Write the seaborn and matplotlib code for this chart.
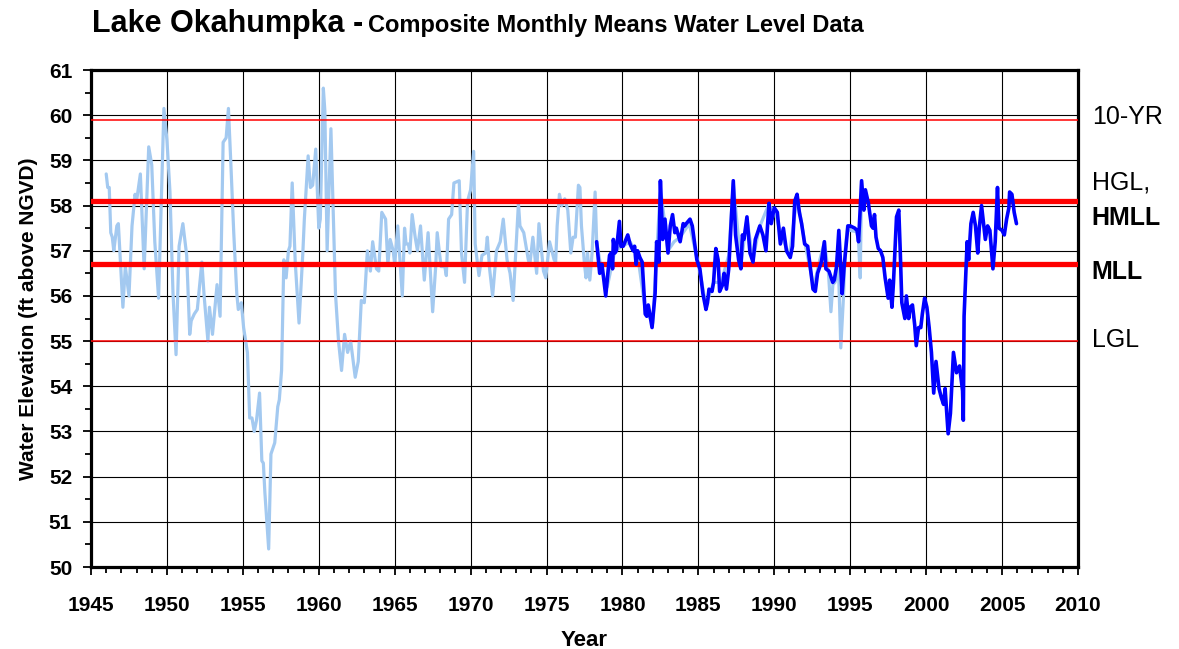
import pandas as pd
import matplotlib.pyplot as plt
import seaborn as sns
from matplotlib.ticker import MultipleLocator

# Composite record (light blue), 1946 - 1995
light_year = [
    1946.0, 1946.1, 1946.2, 1946.3, 1946.4, 1946.5, 1946.7, 1946.8, 1947.1, 1947.26,
    1947.5, 1947.7, 1947.9, 1948.0, 1948.25, 1948.5, 1948.8, 1949.0, 1949.2, 1949.45,
    1949.8, 1950.0, 1950.2, 1950.4, 1950.6, 1950.8, 1951.05, 1951.3, 1951.5, 1951.6,
    1951.8, 1952.0, 1952.3, 1952.45, 1952.7, 1952.8, 1953.0, 1953.3, 1953.5, 1953.7,
    1953.9, 1954.05, 1954.2, 1954.4, 1954.6, 1954.7, 1954.9, 1955.05, 1955.3, 1955.45,
    1955.6, 1955.75, 1955.9, 1956.1, 1956.25, 1956.35, 1956.45, 1956.7, 1956.85, 1957.1,
    1957.3, 1957.4, 1957.55, 1957.7, 1957.85, 1958.0, 1958.1, 1958.25, 1958.45, 1958.7,
    1958.95, 1959.05, 1959.3, 1959.45, 1959.6, 1959.8, 1960.0, 1960.1, 1960.3, 1960.4,
    1960.55, 1960.8, 1961.1, 1961.3, 1961.5, 1961.7, 1961.9, 1962.1, 1962.4, 1962.6,
    1962.8, 1963.0, 1963.2, 1963.4, 1963.55, 1963.8, 1963.95, 1964.15, 1964.4, 1964.55,
    1964.7, 1964.9, 1965.0, 1965.2, 1965.5, 1965.65, 1965.75, 1965.9, 1966.0, 1966.15,
    1966.35, 1966.5, 1966.7, 1966.95, 1967.2, 1967.5, 1967.7, 1967.8, 1968.05, 1968.3,
    1968.4, 1968.55, 1968.75, 1968.9, 1969.25, 1969.4, 1969.6, 1969.8, 1970.0, 1970.2,
    1970.3, 1970.55, 1970.75, 1971.0, 1971.1, 1971.25, 1971.45, 1971.7, 1971.95, 1972.15,
    1972.4, 1972.6, 1972.8, 1973.15, 1973.25, 1973.5, 1973.8, 1973.9, 1974.1, 1974.35,
    1974.5, 1974.8, 1974.95, 1975.2, 1975.5, 1975.6, 1975.7, 1975.85, 1976.0, 1976.2,
    1976.4, 1976.6, 1976.75, 1976.9, 1977.1, 1977.2, 1977.3, 1977.5, 1977.6, 1977.7,
    1977.85, 1978.0, 1978.2, 1978.3, 1978.6, 1979.0, 1979.5, 1980.0, 1980.5, 1981.0,
    1981.5, 1982.0, 1982.5, 1983.0, 1983.4, 1983.8, 1984.4, 1985.0, 1985.5, 1986.0,
    1986.5, 1987.0, 1987.3, 1987.8, 1988.2, 1988.6, 1989.0, 1989.6, 1990.0, 1990.5,
    1991.0, 1991.5, 1992.0, 1992.6, 1993.0, 1993.3, 1993.57, 1993.73, 1993.86, 1994.0,
    1994.23, 1994.38, 1994.56, 1994.67, 1994.82, 1995.0, 1995.44, 1995.55, 1995.66, 1995.75,
]
light_level = [
    58.7, 58.4, 58.4, 57.4, 57.3, 57.0, 57.55, 57.6, 55.75, 56.65,
    56.0, 57.55, 58.25, 58.1, 58.7, 56.6, 59.3, 58.9, 57.2, 55.95,
    60.15, 59.45, 58.3, 56.05, 54.7, 57.1, 57.6, 56.9, 55.15, 55.45,
    55.6, 55.7, 56.75, 56.0, 55.0, 55.75, 55.15, 56.25, 55.55, 59.4,
    59.5, 60.15, 59.0, 57.4, 56.05, 55.7, 55.85, 55.3, 54.75, 53.3,
    53.3, 53.0, 53.25, 53.85, 52.35, 52.3, 51.65, 50.4, 52.5, 52.75,
    53.55, 53.7, 54.35, 56.8, 56.4, 57.0, 57.1, 58.5, 56.75, 55.4,
    56.95, 57.7, 59.1, 58.4, 58.45, 59.25, 57.5, 57.7, 60.6, 60.1,
    57.0, 59.7, 56.05, 55.0, 54.35, 55.15, 54.75, 55.0, 54.2, 54.55,
    55.9, 55.85, 57.0, 56.55, 57.2, 56.6, 56.55, 57.85, 57.7, 56.7,
    57.25, 57.0, 56.7, 57.55, 56.0, 57.5, 57.15, 57.15, 56.95, 57.8,
    57.3, 57.0, 57.55, 56.35, 57.4, 55.65, 56.65, 57.4, 56.65, 56.65,
    56.45, 57.7, 57.8, 58.5, 58.55, 56.95, 56.3, 58.1, 58.35, 59.2,
    57.15, 56.45, 56.9, 56.95, 57.3, 56.6, 56.0, 57.0, 57.2, 57.7,
    56.8, 56.5, 55.9, 58.05, 57.55, 57.4, 56.8, 56.7, 57.3, 56.5,
    57.6, 56.55, 56.4, 57.2, 56.8, 56.75, 57.55, 58.25, 58.0, 58.15,
    57.9, 56.95, 57.3, 57.3, 58.45, 58.4, 57.55, 56.7, 56.4, 56.95,
    56.35, 56.95, 58.3, 57.2, 56.6, 56.2, 57.0, 57.1, 57.2, 56.9,
    55.7, 55.4, 58.4, 57.0, 57.2, 57.3, 57.6, 56.7, 55.8, 56.3,
    56.3, 56.9, 58.5, 56.7, 57.7, 56.8, 57.5, 58.0, 57.9, 57.3,
    56.9, 58.2, 57.2, 56.2, 56.8, 57.2, 56.5, 55.65, 56.25, 56.3,
    56.6, 54.85, 56.0, 57.0, 57.55, 57.45, 57.42, 57.2, 56.4, 58.5,
]

# Recent record (dark blue), 1978 - 2006
dark_year = [
    1978.3, 1978.5, 1978.65, 1978.9, 1979.15, 1979.25, 1979.35, 1979.4, 1979.5, 1979.6,
    1979.8, 1979.9, 1980.05, 1980.35, 1980.5, 1980.7, 1980.8, 1980.9, 1981.0, 1981.15,
    1981.3, 1981.5, 1981.6, 1981.7, 1981.95, 1982.15, 1982.25, 1982.4, 1982.5, 1982.65,
    1982.8, 1983.0, 1983.15, 1983.3, 1983.45, 1983.55, 1983.8, 1984.0, 1984.1, 1984.2,
    1984.45, 1984.6, 1984.9, 1985.1, 1985.3, 1985.5, 1985.6, 1985.7, 1985.9, 1986.0,
    1986.15, 1986.3, 1986.4, 1986.6, 1986.7, 1986.85, 1987.0, 1987.1, 1987.3, 1987.45,
    1987.65, 1987.8, 1987.9, 1988.0, 1988.2, 1988.4, 1988.6, 1988.75, 1988.9, 1989.05,
    1989.25, 1989.45, 1989.65, 1989.8, 1990.0, 1990.2, 1990.4, 1990.6, 1990.8, 1991.05,
    1991.2, 1991.35, 1991.5, 1991.65, 1991.8, 1992.0, 1992.2, 1992.35, 1992.55, 1992.7,
    1992.85, 1993.1, 1993.3, 1993.4, 1993.6, 1993.85, 1993.95, 1994.1, 1994.25, 1994.47,
    1994.6, 1994.85, 1995.0, 1995.3, 1995.45, 1995.55, 1995.75, 1995.9, 1996.0, 1996.1,
    1996.2, 1996.4, 1996.5, 1996.6, 1996.7, 1996.85, 1997.0, 1997.15, 1997.3, 1997.5,
    1997.6, 1997.75, 1997.85, 1998.05, 1998.2, 1998.3, 1998.4, 1998.6, 1998.7, 1998.85,
    1998.95, 1999.1, 1999.25, 1999.35, 1999.5, 1999.65, 1999.75, 1999.9, 2000.05, 2000.2,
    2000.35, 2000.5, 2000.65, 2000.85, 2001.0, 2001.15, 2001.25, 2001.45, 2001.6, 2001.8,
    2002.0, 2002.2, 2002.4, 2002.45, 2002.5, 2002.7, 2002.8, 2002.95, 2003.1, 2003.25,
    2003.4, 2003.5, 2003.65, 2003.9, 2004.05, 2004.2, 2004.4, 2004.55, 2004.7, 2004.8,
    2005.0, 2005.15, 2005.3, 2005.45, 2005.5, 2005.65, 2005.8, 2005.95,
]
dark_level = [
    57.2, 56.5, 56.7, 56.0, 56.9, 56.95, 56.6, 57.25, 56.95, 57.0,
    57.65, 57.1, 57.1, 57.35, 57.15, 57.0, 57.1, 56.7, 57.0, 56.85,
    56.75, 55.6, 55.55, 55.8, 55.3, 56.05, 57.2, 56.75, 58.55, 57.25,
    57.7, 56.95, 57.55, 57.8, 57.4, 57.5, 57.2, 57.6, 57.55, 57.6,
    57.7, 57.55, 56.8, 56.6, 56.05, 55.7, 55.85, 56.15, 56.1, 56.3,
    57.05, 56.8, 56.1, 56.25, 56.5, 56.15, 56.6, 57.25, 58.55, 57.35,
    56.8, 56.6, 57.35, 57.25, 57.75, 56.95, 56.75, 57.25, 57.4, 57.55,
    57.35, 57.0, 58.05, 57.6, 57.95, 57.85, 57.15, 57.5, 57.0, 56.85,
    57.1, 58.1, 58.25, 57.85, 57.6, 57.15, 57.1, 56.7, 56.15, 56.1,
    56.5, 56.75, 57.2, 56.6, 56.55, 56.3, 56.35, 56.65, 57.45, 56.05,
    56.65, 57.55, 57.55, 57.5, 57.45, 57.2, 58.55, 57.9, 58.35, 58.2,
    58.05, 57.55, 57.5, 57.8, 57.3, 57.05, 57.0, 56.85, 56.4, 55.95,
    56.35, 55.75, 56.3, 57.75, 57.9, 56.95, 55.85, 55.5, 56.0, 55.5,
    55.75, 55.8, 55.35, 54.9, 55.3, 55.3, 55.6, 55.95, 55.75, 55.3,
    54.75, 53.85, 54.55, 53.95, 53.75, 53.6, 53.95, 52.95, 53.4, 54.75,
    54.3, 54.45, 53.9, 53.25, 55.55, 57.2, 56.8, 57.6, 57.85, 57.55,
    56.95, 57.5, 58.0, 57.25, 57.55, 57.45, 56.6, 57.2, 58.4, 57.5,
    57.45, 57.35, 57.7, 57.95, 58.3, 58.25, 57.85, 57.6,
]

# Reference levels
ref_levels = [59.9, 58.1, 56.7, 55.0]
ref_widths = [1.1, 3.8, 3.8, 1.1]

light = pd.DataFrame({"Year": light_year, "Level": light_level})
dark = pd.DataFrame({"Year": dark_year, "Level": dark_level})

sns.set_style("white")
plt.rcParams['font.family'] = ['Liberation Sans', 'DejaVu Sans']
plt.rcParams['text.color'] = 'black'
plt.rcParams['axes.labelcolor'] = 'black'
plt.rcParams['xtick.color'] = 'black'
plt.rcParams['ytick.color'] = 'black'

fig = plt.figure(figsize=(11.79, 6.49), dpi=100)
ax = fig.add_axes([0.0772, 0.1263, 0.8371, 0.7658])

sns.lineplot(data=light, x="Year", y="Level", ax=ax, color="#A3C9F0",
             linewidth=2.3, estimator=None, sort=False, zorder=2)
for lev, lw in zip(ref_levels, ref_widths):
    ax.axhline(lev, color="#FF0000", linewidth=lw, zorder=3)
sns.lineplot(data=dark, x="Year", y="Level", ax=ax, color="#0000FF",
             linewidth=2.6, estimator=None, sort=False, zorder=4)

ax.set_xlim(1945, 2010)
ax.set_ylim(50, 61)
ax.xaxis.set_major_locator(MultipleLocator(5))
ax.xaxis.set_minor_locator(MultipleLocator(1))
ax.yaxis.set_major_locator(MultipleLocator(1))
ax.yaxis.set_minor_locator(MultipleLocator(0.5))
ax.grid(True, which='major', color='black', linewidth=0.8)
ax.set_axisbelow(True)

ax.tick_params(which='both', direction='out', bottom=True, left=True, color='black')
ax.tick_params(which='major', length=5.5, width=1.3, labelsize=15)
ax.tick_params(which='minor', length=4.5, width=1.3)
ax.tick_params(axis='x', which='major', pad=15)
ax.tick_params(axis='y', which='major', pad=8)
for lab in ax.get_xticklabels() + ax.get_yticklabels():
    lab.set_fontweight('bold')
for sp in ax.spines.values():
    sp.set_color('black')
    sp.set_linewidth(2.3)

ax.set_xlabel("Year", fontsize=16, fontweight='bold', labelpad=11)
ax.set_ylabel("Water Elevation (ft above NGVD)", fontsize=15, fontweight='bold', labelpad=8)

# labels on the right side
ax.text(2010.9, 59.96, "10-YR", fontsize=18, va='center', ha='left', clip_on=False)
ax.text(2010.9, 58.5, "HGL,", fontsize=18, va='center', ha='left', clip_on=False)
ax.text(2010.9, 57.73, "HMLL", fontsize=18, fontweight='bold', va='center', ha='left', clip_on=False)
ax.text(2010.9, 56.53, "MLL", fontsize=18, fontweight='bold', va='center', ha='left', clip_on=False)
ax.text(2010.9, 55.03, "LGL", fontsize=18, va='center', ha='left', clip_on=False)

fig.text(92 / 1179, 1 - 32 / 649, "Lake Okahumpka -", fontsize=22, fontweight='bold', va='baseline')
fig.text(368 / 1179, 1 - 32 / 649, "Composite Monthly Means Water Level Data", fontsize=17,
         fontweight='bold', va='baseline')

fig.savefig("out.png", dpi=100)
